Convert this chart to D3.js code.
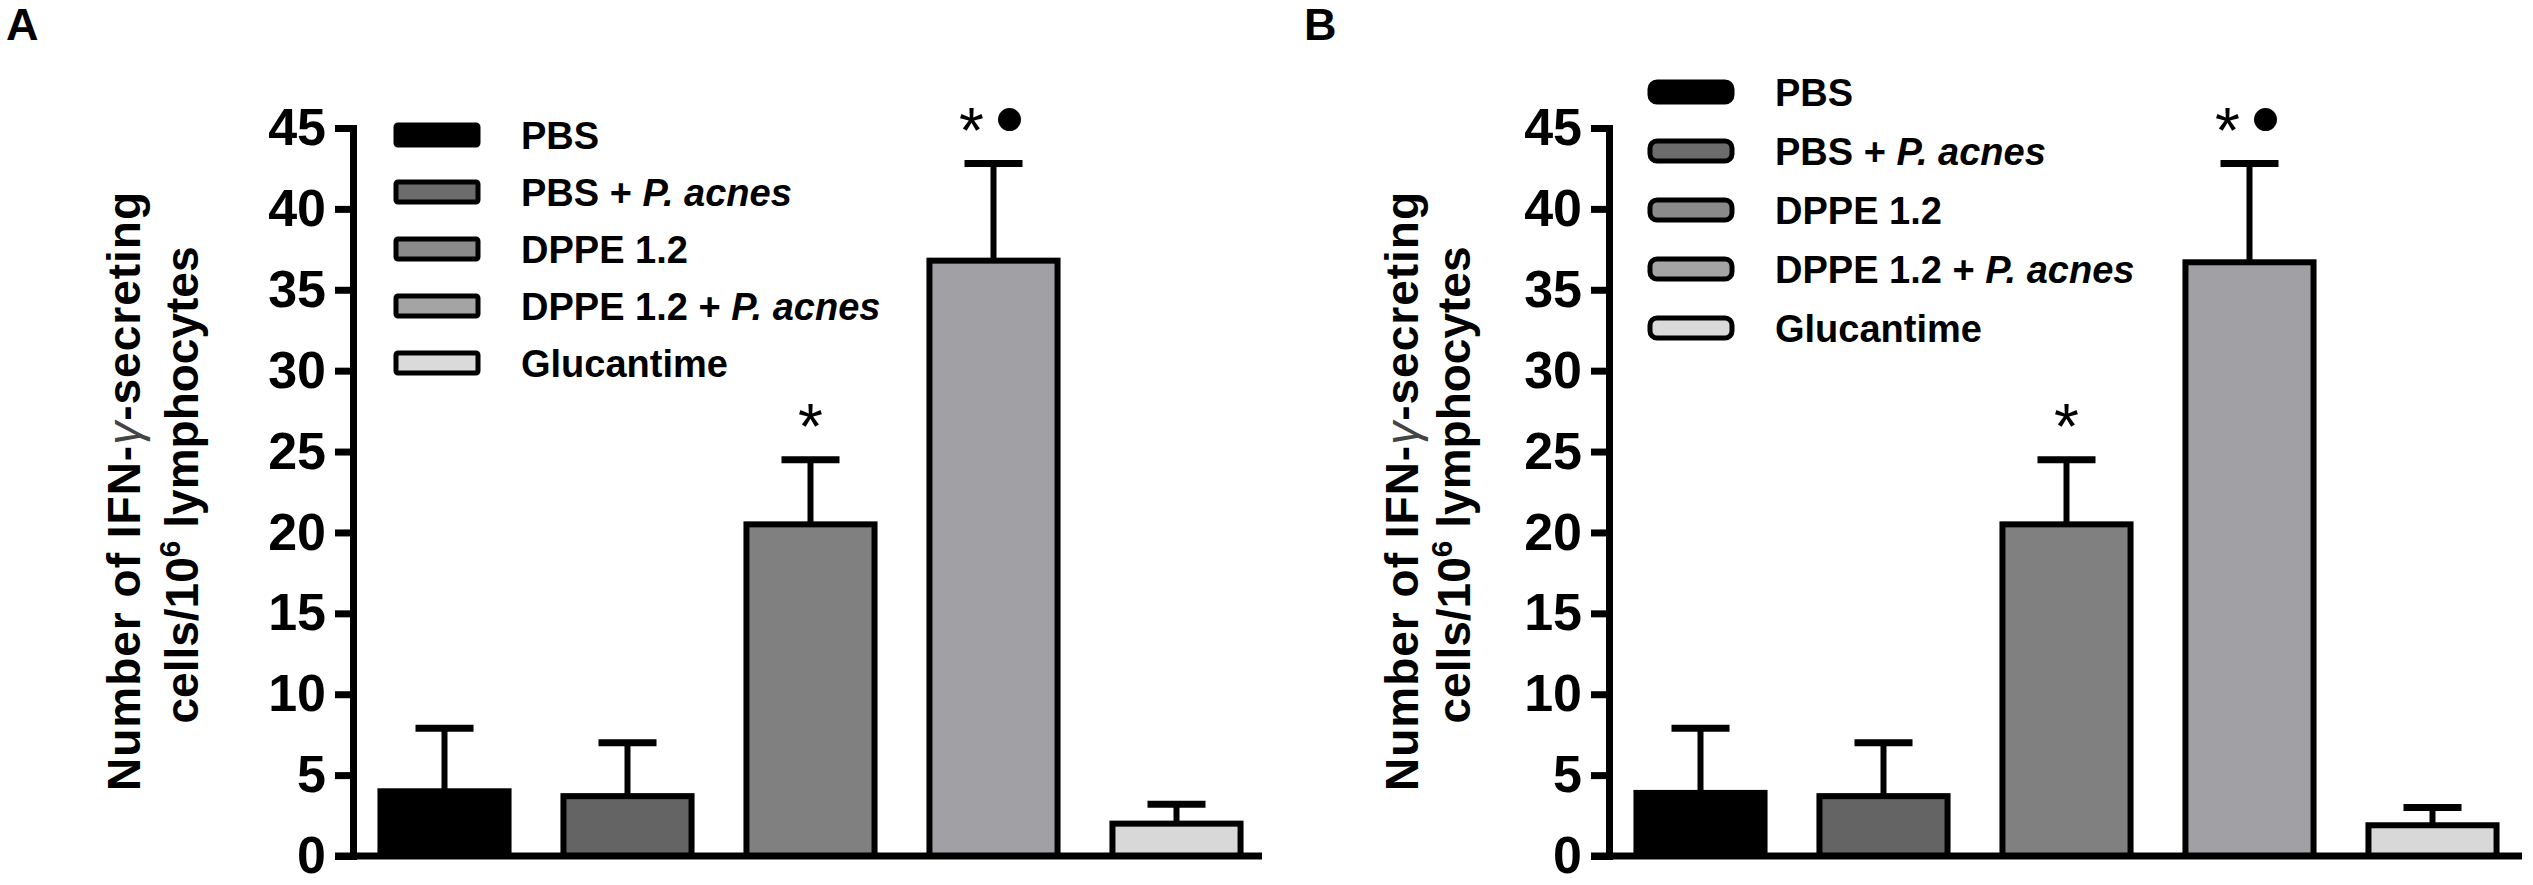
<!DOCTYPE html>
<html>
<head>
<meta charset="utf-8">
<script src="https://cdn.jsdelivr.net/npm/d3@7"></script>
<style>
  html, body { margin: 0; padding: 0; background: #fff; }
  svg { display: block; }
  text { font-family: "Liberation Sans", Arial, sans-serif; }
</style>
</head>
<body>
<svg id="chart" width="2533" height="885"></svg>
<script>
// groups, in plotting order
const groups = ["PBS", "PBS + P. acnes", "DPPE 1.2", "DPPE 1.2 + P. acnes", "Glucantime"];
// legend labels split into upright / italic part
const legendPlain = ["PBS", "PBS + ", "DPPE 1.2", "DPPE 1.2 + ", "Glucantime"];
const legendItalic = ["", "P. acnes", "", "P. acnes", ""];

// panel A values (mean and top of error bar)
const meansA = [4.0, 3.7, 20.5, 36.8, 2.0];
const errTopA = [7.9, 7.0, 24.5, 42.8, 3.2];
// panel B values
const meansB = [3.9, 3.7, 20.5, 36.7, 1.9];
const errTopB = [7.9, 7.0, 24.5, 42.8, 3.0];

// significance marks above bars
const marks = ["", "", "*", "*", ""];
const dots = [false, false, false, true, false];

const yTicks = [0, 5, 10, 15, 20, 25, 30, 35, 40, 45];

const fills = ["#000000", "#646464", "#808080", "#a1a1a5", "#d8d8d8"];
const swatchFills = ["#000000", "#6c6c6c", "#8a8a8a", "#a4a4a4", "#dadada"];

const svg = d3.select("#chart");

const y = d3.scaleLinear().domain([0, 45]).range([856, 128]);

function drawPanel(cfg) {
    let g = svg.append("g");

    let x = d3.scaleBand()
        .domain(groups)
        .range([cfg.axisX, cfg.axisX + 915])
        .paddingInner(0.3)
        .paddingOuter(0.15);

    // panel letter
    g.append("text")
        .attr("x", cfg.letterX)
        .attr("y", 40)
        .attr("font-size", 45)
        .attr("font-weight", "bold")
        .text(cfg.letter);

    // bars
    g.selectAll("rect.bar")
        .data(cfg.means)
        .enter()
        .append("rect")
        .classed("bar", true)
        .attr("x", (d, i) => x(groups[i]))
        .attr("y", d => y(d))
        .attr("width", x.bandwidth())
        .attr("height", d => y(0) - y(d))
        .attr("fill", (d, i) => fills[i])
        .attr("stroke", "#000")
        .attr("stroke-width", 6);

    // error bars
    let capHalf = 29;
    g.selectAll("line.stem")
        .data(cfg.errs)
        .enter()
        .append("line")
        .attr("x1", (d, i) => x(groups[i]) + x.bandwidth() / 2)
        .attr("x2", (d, i) => x(groups[i]) + x.bandwidth() / 2)
        .attr("y1", (d, i) => y(cfg.means[i]))
        .attr("y2", d => y(d))
        .attr("stroke", "#000")
        .attr("stroke-width", 6);

    g.selectAll("line.cap")
        .data(cfg.errs)
        .enter()
        .append("line")
        .attr("x1", (d, i) => x(groups[i]) + x.bandwidth() / 2 - capHalf)
        .attr("x2", (d, i) => x(groups[i]) + x.bandwidth() / 2 + capHalf)
        .attr("y1", d => y(d))
        .attr("y2", d => y(d))
        .attr("stroke", "#000")
        .attr("stroke-width", 7);

    // significance marks
    cfg.errs.forEach(function (e, i) {
        let cx = x(groups[i]) + x.bandwidth() / 2;
        let cy = y(e) - 44;
        if (dots[i]) {
            g.append("text")
                .attr("x", cx - 22)
                .attr("y", cy + 33)
                .attr("text-anchor", "middle")
                .attr("font-size", 64)
                .text(marks[i]);
            g.append("circle")
                .attr("cx", cx + 16)
                .attr("cy", cy)
                .attr("r", 11.5)
                .attr("fill", "#000");
        } else if (marks[i]) {
            g.append("text")
                .attr("x", cx)
                .attr("y", cy + 33)
                .attr("text-anchor", "middle")
                .attr("font-size", 64)
                .text(marks[i]);
        }
    });

    // y axis
    let yAxis = d3.axisLeft(y)
        .tickValues(yTicks)
        .tickSize(18)
        .tickSizeOuter(0)
        .tickPadding(9);

    let ax = g.append("g")
        .attr("transform", "translate(" + cfg.axisX + ",0)")
        .call(yAxis);

    ax.select(".domain")
        .attr("stroke-width", 7)
        .attr("stroke-linecap", "square");
    ax.selectAll(".tick line")
        .attr("stroke-width", 7);
    ax.selectAll(".tick text")
        .attr("font-family", "'Liberation Sans', Arial, sans-serif")
        .attr("font-size", 52)
        .attr("font-weight", "bold")
        .attr("fill", "#000");

    // x axis baseline
    g.append("line")
        .attr("x1", cfg.axisX - 18)
        .attr("x2", cfg.axisEnd)
        .attr("y1", y(0))
        .attr("y2", y(0))
        .attr("stroke", "#000")
        .attr("stroke-width", 7);

    // y axis title, two lines
    let t1 = g.append("text")
        .attr("transform", "translate(" + cfg.title1X + ",491) rotate(-90)")
        .attr("text-anchor", "middle")
        .attr("font-size", 46)
        .attr("font-weight", "bold")
        .attr("letter-spacing", 1);
    t1.append("tspan").text("Number of IFN-");
    t1.append("tspan").attr("font-weight", "normal").attr("font-style", "italic").attr("fill", "#444").text("γ");
    t1.append("tspan").text("-secreting");

    let t2 = g.append("text")
        .attr("transform", "translate(" + cfg.title2X + ",485) rotate(-90)")
        .attr("text-anchor", "middle")
        .attr("font-size", 46)
        .attr("font-weight", "bold");
    t2.append("tspan").text("cells/10");
    t2.append("tspan").attr("dy", -18).attr("font-size", 30).text("6");
    t2.append("tspan").attr("dy", 18).text(" lymphocytes");

    // legend
    let leg = g.selectAll("g.leg")
        .data(groups)
        .enter()
        .append("g")
        .attr("transform", (d, i) => "translate(" + cfg.legX + "," + (cfg.legY + i * cfg.legStep) + ")");

    leg.append("rect")
        .attr("x", 0)
        .attr("y", -10)
        .attr("width", 82)
        .attr("height", 20)
        .attr("rx", cfg.legRound)
        .attr("fill", (d, i) => swatchFills[i])
        .attr("stroke", "#000")
        .attr("stroke-width", 5);

    let lt = leg.append("text")
        .attr("x", 125)
        .attr("y", 14)
        .attr("font-size", 38)
        .attr("font-weight", "bold");
    lt.append("tspan").text((d, i) => legendPlain[i]);
    lt.append("tspan").attr("font-style", "italic").text((d, i) => legendItalic[i]);
}

drawPanel({
    letter: "A", letterX: 6,
    axisX: 353, axisEnd: 1262,
    means: meansA, errs: errTopA,
    title1X: 140, title2X: 198,
    legX: 396, legY: 135, legStep: 57, legRound: 2
});

drawPanel({
    letter: "B", letterX: 1304,
    axisX: 1609, axisEnd: 2522,
    means: meansB, errs: errTopB,
    title1X: 1418, title2X: 1470,
    legX: 1650, legY: 92, legStep: 59, legRound: 7
});
</script>
</body>
</html>
